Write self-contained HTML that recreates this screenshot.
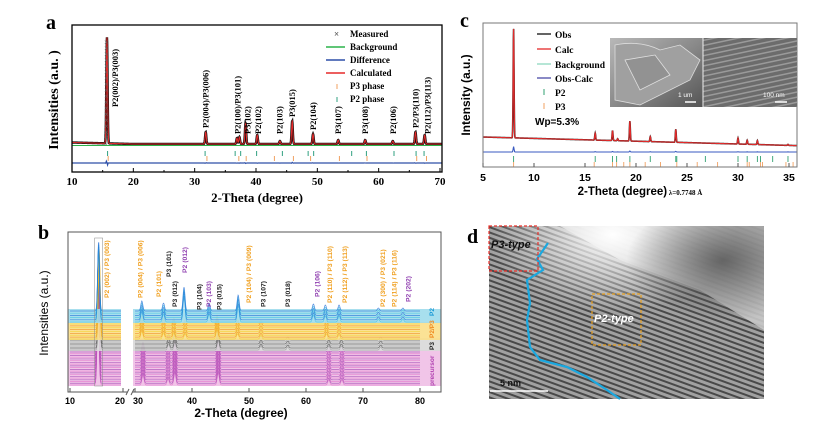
<!DOCTYPE html>
<html><head><meta charset="utf-8">
<style>
html,body{margin:0;padding:0;background:#fff;}
svg{display:block;}
.serif{font-family:"Liberation Serif",serif;font-weight:bold;}
.sans{font-family:"Liberation Sans",sans-serif;}
</style></head>
<body>
<svg id="fig" width="817" height="426" viewBox="0 0 817 426" xmlns="http://www.w3.org/2000/svg">
<defs>
<clipPath id="clipA"><rect x="72" y="25" width="370" height="147"/></clipPath>
<clipPath id="clipB"><rect x="68" y="232" width="373" height="160"/></clipPath>
<clipPath id="clipC"><rect x="483" y="23" width="314" height="144"/></clipPath>
<clipPath id="clipD"><rect x="489" y="226" width="275" height="173"/></clipPath>
<radialGradient id="glow" cx="0.45" cy="0.05" r="0.45">
<stop offset="0" stop-color="#ffffff" stop-opacity="1"/><stop offset="1" stop-color="#ffffff" stop-opacity="0"/></radialGradient>
<radialGradient id="darkc" cx="0.85" cy="0.2" r="0.35">
<stop offset="0" stop-color="#5a5a5a" stop-opacity="0.9"/><stop offset="1" stop-color="#5a5a5a" stop-opacity="0"/></radialGradient>
<pattern id="stripes" width="5" height="5" patternUnits="userSpaceOnUse" patternTransform="rotate(20)">
<rect width="5" height="5" fill="#a8a8a8"/><rect width="5" height="2" fill="#333"/></pattern>
<linearGradient id="sem1" x1="0" y1="0" x2="1" y2="1"><stop offset="0" stop-color="#b8b8b8"/><stop offset="0.5" stop-color="#8a8a8a"/><stop offset="1" stop-color="#555"/></linearGradient>
<pattern id="sem2" width="5" height="5" patternUnits="userSpaceOnUse" patternTransform="rotate(-12)">
<rect width="5" height="5" fill="#6c6c6c"/><rect width="5" height="1.5" fill="#9a9a9a"/></pattern>
</defs>

<!-- Panel a -->
<g id="panelA">
<text x="46" y="29" class="serif" font-size="20">a</text>
<g id="aMarks" clip-path="url(#clipA)"></g>
<rect x="72" y="25" width="370" height="147" fill="none" stroke="#000" stroke-width="1.3"/>
<g id="aAxis"></g>
<text x="58" y="100" class="serif" font-size="14" text-anchor="middle" transform="rotate(-90 58 100)">Intensities (a.u. )</text>
<text x="257" y="202" class="serif" font-size="13" text-anchor="middle">2-Theta (degree)</text>
<g class="serif" font-size="9">
<text x="334" y="37" font-size="9" fill="#555">×</text><text x="350" y="37">Measured</text>
<line x1="326" y1="47" x2="345" y2="47" stroke="#2bb34a" stroke-width="1.5"/><text x="350" y="50">Background</text>
<line x1="326" y1="60" x2="345" y2="60" stroke="#2d4fa8" stroke-width="1.5"/><text x="350" y="63">Difference</text>
<line x1="326" y1="73" x2="345" y2="73" stroke="#e52a2a" stroke-width="1.5"/><text x="350" y="76">Calculated</text>
<line x1="337" y1="84" x2="337" y2="89" stroke="#f0a060" stroke-width="1"/><text x="350" y="89">P3 phase</text>
<line x1="337" y1="97" x2="337" y2="102" stroke="#30a080" stroke-width="1"/><text x="350" y="102">P2 phase</text>
</g>
<g id="aLabels" class="serif" font-size="8.5"></g>
</g>

<!-- Panel b -->
<g id="panelB">
<text x="38" y="239" class="serif" font-size="20">b</text>
<g id="bMarks" clip-path="url(#clipB)"></g>
<rect x="68" y="232" width="373" height="160" fill="none" stroke="#555" stroke-width="1"/>
<rect x="127" y="388" width="6" height="8" fill="#fff"/>
<line x1="126" y1="395" x2="129" y2="389" stroke="#555"/><line x1="131" y1="395" x2="134" y2="389" stroke="#555"/>
<g id="bAxis"></g>
<text x="48" y="313" class="sans" font-size="12" text-anchor="middle" transform="rotate(-90 48 313)">Intensities (a.u.)</text>
<text x="241" y="417" class="sans" font-size="12" font-weight="bold" text-anchor="middle">2-Theta (degree)</text>
<g id="bLabels" class="sans" font-size="6.8" font-weight="bold"></g>
<g class="sans" font-size="6.5" font-weight="bold" transform="translate(434 386) rotate(-90)">
<text x="0" y="0" fill="#b040b0">precursor</text><text x="36" y="0" fill="#222">P3</text><text x="48" y="0" fill="#f08a20">P2/P3</text><text x="70" y="0" fill="#1a9ad6">P2</text>
</g>
</g>

<!-- Panel c -->
<g id="panelC">
<text x="460" y="27" class="serif" font-size="20">c</text>
<g id="cMarks" clip-path="url(#clipC)"></g>
<rect x="483" y="23" width="314" height="144" fill="none" stroke="#777" stroke-width="1"/>
<g id="cAxis"></g>
<text x="470" y="95" class="sans" font-size="12" font-weight="bold" text-anchor="middle" transform="rotate(-90 470 95)">Intensity (a.u.)</text>
<text x="640" y="195" class="sans" font-size="11.5" font-weight="bold" text-anchor="middle">2-Theta (degree)<tspan class="serif" font-size="7" font-weight="normal"> λ=0.7748 Å</tspan></text>
<g class="serif" font-size="9.5">
<line x1="537" y1="34" x2="551" y2="34" stroke="#111" stroke-width="1.3"/><text x="555" y="38">Obs</text>
<line x1="537" y1="49" x2="551" y2="49" stroke="#e52a2a" stroke-width="1.3"/><text x="555" y="53">Calc</text>
<line x1="537" y1="64" x2="551" y2="64" stroke="#8fd8c0" stroke-width="1.3"/><text x="555" y="68">Background</text>
<line x1="537" y1="78" x2="551" y2="78" stroke="#4a4aa8" stroke-width="1.3"/><text x="555" y="82">Obs-Calc</text>
<line x1="544" y1="89" x2="544" y2="95" stroke="#30a070" stroke-width="1"/><text x="555" y="96">P2</text>
<line x1="544" y1="103" x2="544" y2="109" stroke="#f0a060" stroke-width="1"/><text x="555" y="110">P3</text>
<text x="535" y="125" class="sans" font-size="10" font-weight="bold">Wp=5.3%</text>
</g>
<g>
<rect x="610" y="38" width="93" height="69" fill="url(#sem1)"/>
<path d="M615 45 Q640 40 660 50 L680 45 L700 60 L690 80 L660 95 L640 105 L615 100 Z" fill="#a0a0a0" stroke="#ddd" stroke-width="0.8"/>
<path d="M625 60 L655 55 L670 75 L640 90 Z" fill="#929292" stroke="#e0e0e0" stroke-width="0.8"/>
<rect x="703" y="38" width="94" height="69" fill="url(#sem2)"/>
<line x1="703" y1="38" x2="703" y2="107" stroke="#eee" stroke-width="1"/>
<text x="678" y="97" class="sans" font-size="6.5" fill="#fff">1 um</text>
<line x1="685" y1="102" x2="696" y2="102" stroke="#fff" stroke-width="1.5"/>
<text x="763" y="97" class="sans" font-size="6.5" fill="#fff">100 nm</text>
<line x1="775" y1="102" x2="787" y2="102" stroke="#fff" stroke-width="1.5"/>
</g>
</g>

<!-- Panel d -->
<g id="panelD">
<text x="467" y="243" class="serif" font-size="20">d</text>
<g clip-path="url(#clipD)">
<rect x="489" y="226" width="275" height="173" fill="url(#stripes)"/>
<rect x="489" y="226" width="275" height="173" fill="#8a8a8a" opacity="0.25"/>
<polygon points="560,226 764,226 764,330 700,290 620,260" fill="#c8c8c8" opacity="0.9"/>
<rect x="489" y="226" width="275" height="173" fill="url(#glow)"/>
<rect x="489" y="226" width="275" height="173" fill="url(#darkc)"/>
</g>
<polyline points="548,243 537,259 543,270 527,280 530,303 527,320 530,347 540,360 567,367 587,377 607,390 620,399" fill="none" stroke="#1aa8e0" stroke-width="2.2"/>
<rect x="489" y="226" width="49" height="45" fill="none" stroke="#e8302a" stroke-width="1.2" stroke-dasharray="3 2"/>
<text x="491" y="248" class="sans" font-size="11" font-weight="bold" font-style="italic" fill="#111">P3-type</text>
<rect x="592" y="294" width="49" height="51" fill="none" stroke="#e8a020" stroke-width="1.2" stroke-dasharray="3 2"/>
<text x="594" y="322" class="sans" font-size="11" font-weight="bold" font-style="italic" fill="#fff">P2-type</text>
<text x="500" y="386" class="sans" font-size="9" font-weight="bold" fill="#111">5 nm</text>
<line x1="490" y1="391" x2="548" y2="391" stroke="#fff" stroke-width="1.5"/>
</g>
</svg>

<script>
// ---------- Panel a data ----------
const aPeakPos = [15.7, 31.8, 36.9, 37.3, 38.3, 40.2, 43.9, 45.9, 49.3, 53.4, 57.8, 62.3, 66.0, 67.5];
const aPeakInt = [106, 12, 6, 7, 21, 9, 3, 23, 10, 4, 4, 3, 12, 9];
const aP2Ticks = [15.8, 31.7, 36.6, 37.5, 40.1, 44.3, 48.5, 49.4, 55.6, 58.0, 62.5, 66.1, 67.4];
const aP3Ticks = [15.9, 32.0, 37.2, 38.4, 43.0, 46.1, 48.9, 53.6, 58.1, 66.2, 67.8];
const aTicks = [10, 20, 30, 40, 50, 60, 70];
const aLabels = ["P2(002)/P3(003)","P2(004)/P3(006)","P2(100)/P3(101)","P3(102)","P2(102)","P2(103)","P3(015)","P2(104)","P3(107)","P3(108)","P2(106)","P2/P3(110)","P2(112)/P3(113)"];
const aLabelPos = [17.0, 31.8, 37.0, 38.6, 40.3, 43.8, 45.9, 49.3, 53.4, 57.8, 62.3, 66.0, 68.0];

// ---------- Panel b data ----------
const bGroupNames = ["precursor","P3","P2/P3","P2"];
const bGroupCounts = [20, 6, 9, 6];
const bPeaksPre = [15.3, 31.4, 35.8, 37.0, 44.6, 64.0, 66.3];
const bIntPre = [90, 10, 6, 12, 12, 5, 5];
const bPeaksP3 = [15.5, 35.9, 37.0, 44.6, 52.1, 56.8, 64.0, 66.2, 73.1];
const bIntP3 = [70, 6, 8, 10, 4, 3, 4, 4, 3];
const bPeaksMix = [15.5, 31.2, 35.0, 36.8, 38.8, 44.4, 48.0, 52.1, 63.6, 65.8];
const bIntMix = [75, 8, 6, 6, 5, 9, 5, 4, 5, 4];
const bPeaksP2 = [15.4, 31.2, 35.0, 38.6, 43.0, 48.1, 61.3, 63.4, 65.8, 72.7, 77.0];
const bIntP2 = [70, 10, 8, 24, 8, 16, 7, 6, 6, 3, 3];
const bTicks = [10, 20, 30, 40, 50, 60, 70, 80];
const bLabels = ["P2 (002) / P3 (003)","P2 (004) / P3 (006)","P2 (101)","P3 (101)","P3 (012)","P2 (012)","P3 (104)","P2 (103)","P3 (015)","P2 (104) / P3 (009)","P3 (107)","P3 (018)","P2 (106)","P2 (110) / P3 (110)","P2 (112) / P3 (113)","P2 (300) / P3 (021)","P2 (114) / P3 (116)","P2 (202)"];
const bLabelPos = [17.0, 31.0, 34.2, 36.0, 37.0, 38.8, 41.3, 43.0, 44.8, 50.0, 52.5, 56.8, 62.0, 64.2, 66.8, 73.5, 75.5, 78.0];
const bLabelKind = ["o","o","o","k","k","p","k","p","k","o","k","k","p","o","o","o","o","p"];
const bLabelBottom = [298,298,297,277,307,273,310,307,310,303,307,307,297,303,303,307,307,302];

// ---------- Panel c data ----------
const cPeakPos = [8.0, 16.0, 17.7, 18.2, 19.4, 21.4, 23.9, 30.0, 30.9, 31.9, 34.9];
const cPeakInt = [109, 7, 10, 2, 20, 5, 13, 6, 4, 4, 1];
const cP2Ticks = [8.0, 16.0, 17.7, 18.1, 19.4, 21.4, 23.9, 24.0, 26.8, 30.0, 30.9, 31.9, 32.2, 33.4, 34.9, 35.8, 36.0];
const cP3Ticks = [8.0, 15.9, 17.7, 18.1, 18.8, 19.4, 20.9, 22.4, 24.0, 26.0, 28.0, 30.9, 31.1, 32.2, 32.4, 34.7, 35.4];
const cTicks = [5, 10, 15, 20, 25, 30, 35];

const NS = "http://www.w3.org/2000/svg";
function mk(tag, attrs, parent){ const e=document.createElementNS(NS,tag); for(const k in attrs) e.setAttribute(k,attrs[k]); parent.appendChild(e); return e; }
function peakSum(t, pos, ints, w){ let s=0; for(let i=0;i<pos.length;i++){ const d=(t-pos[i])/w; s+=ints[i]*Math.exp(-d*d);} return s; }

// ----- Panel a -----
(function(){
  const xA = t => 72 + (t-10)*(368/60);
  const yA = v => 144 - v;
  const g = document.getElementById('aMarks');
  let d="";
  for(let t=10;t<=70.5;t+=0.03){ const v=peakSum(t,aPeakPos,aPeakInt,0.14)+(t<20?(20-t)*0.15:0); d+=(d?"L":"M")+xA(t).toFixed(2)+" "+yA(v).toFixed(2); }
  const meas = mk('path',{d:d,fill:"none",stroke:"#111","stroke-width":2.4},g);
  
  
  const calc = mk('path',{d:d,fill:"none",stroke:"#e52a2a","stroke-width":1},g);
  
  
  for(let v=0; v<aPeakInt[0]; v+=6){ const c=mk('text',{x:xA(aPeakPos[0])-3,y:yA(v)+3,"font-size":8,fill:"#666"},g); c.textContent="×"; }
  const bg = mk('line',{x1:72,y1:yA(0)+1.5,x2:442,y2:yA(0)+1.5,stroke:"#2bb34a","stroke-width":1},g);
  
  
  let dd="";
  for(let t=10;t<=70.5;t+=0.1){ const v=peakSum(t,aPeakPos,aPeakInt,0.14)*0.03*Math.sin(t*17); dd+=(dd?"L":"M")+xA(t).toFixed(2)+" "+(163-v).toFixed(2); }
  const diff = mk('path',{d:dd,fill:"none",stroke:"#2d4fa8","stroke-width":1.2},g);
  
  
  aP2Ticks.forEach(t=>{ const l=mk('line',{x1:xA(t),y1:151,x2:xA(t),y2:156,stroke:"#30a080","stroke-width":1},g);
    
     });
  aP3Ticks.forEach(t=>{ const l=mk('line',{x1:xA(t),y1:156,x2:xA(t),y2:161,stroke:"#f0a060","stroke-width":1},g);
    
     });
  const ax = document.getElementById('aAxis');
  aTicks.forEach(t=>{ mk('line',{x1:xA(t),y1:172,x2:xA(t),y2:168,stroke:"#000"},ax);
    const tx=mk('text',{x:xA(t),y:185,"text-anchor":"middle",class:"serif","font-size":11},ax); tx.textContent=t;
    
     });
  for(let t=15;t<70;t+=10) mk('line',{x1:xA(t),y1:172,x2:xA(t),y2:170,stroke:"#000"},ax);
  const lg = document.getElementById('aLabels');
  aLabels.forEach((s,i)=>{ const t=aLabelPos[i]; const top=yA(peakSum(t,aPeakPos,aPeakInt,0.14))-4;
    const bottom = i===0 ? 107 : Math.min(top,134);
    const x = xA(t)+3;
    const tx=mk('text',{x:x,y:bottom,transform:`rotate(-90 ${x} ${bottom})`},lg); tx.textContent=s;
    
     });
})();

// ----- Panel b -----
(function(){
  const xB = t => t<=20 ? 70+(t-10)*5.3 : 135+(t-30)*5.7;
  const g = document.getElementById('bMarks');
  const groups = [
    {n:bGroupCounts[0], y0:385, y1:352, pos:bPeaksPre, ints:bIntPre, col:["#9a40b0","#e070c8"], band:"#f0bfe6"},
    {n:bGroupCounts[1], y0:350, y1:340, pos:bPeaksP3, ints:bIntP3, col:["#444","#999"], band:"#d8d8d8"},
    {n:bGroupCounts[2], y0:339, y1:324, pos:bPeaksMix, ints:bIntMix, col:["#f08a20","#f2d030"], band:"#fbdf8a"},
    {n:bGroupCounts[3], y0:322, y1:311, pos:bPeaksP2, ints:bIntP2, col:["#1a6ad6","#40c0e0"], band:"#9fdcec"}
  ];
  groups.forEach((G,gi)=>{
    const band=mk('rect',{x:68,y:G.y1-2,width:373,height:G.y0-G.y1+3,fill:G.band,opacity:0.9},g);
    
    
    for(let i=0;i<G.n;i++){
      const base = G.y0 - (G.y0-G.y1)*i/Math.max(1,G.n-1);
      const segs=[[10,20],[30,80]];
      segs.forEach(sg=>{
        let d="";
        for(let t=sg[0];t<=sg[1];t+=0.08){ let v=peakSum(t,G.pos,G.ints,0.25); d+=(d?"L":"M")+xB(t).toFixed(2)+" "+(base-v).toFixed(2); }
        const p=mk('path',{d:d,fill:"none",stroke:i%2?G.col[0]:G.col[1],"stroke-width":0.7,opacity:0.75},g);
        
        
      });
    }
  });
  mk('rect',{x:121,y:232,width:12,height:160,fill:"#fff"},g);
  const ax = document.getElementById('bAxis');
  bTicks.forEach(t=>{ mk('line',{x1:xB(t),y1:392,x2:xB(t),y2:388,stroke:"#555"},ax);
    const tx=mk('text',{x:xB(t)+(t===20?-3:(t===30?3:0)),y:404,"text-anchor":"middle",class:"sans","font-size":9,"font-weight":"bold"},ax); tx.textContent=t;
    
     });
  const lg = document.getElementById('bLabels');
  const cols={o:"#f0a020",k:"#222",p:"#9040b0"};
  bLabels.forEach((s,i)=>{ const x=xB(bLabelPos[i])+2, y=bLabelBottom[i];
    const tx=mk('text',{x:x,y:y,fill:cols[bLabelKind[i]],transform:`rotate(-90 ${x} ${y})`},lg); tx.textContent=s;
    
     });
  const big=mk('rect',{x:xB(15.4)-4,y:238,width:8,height:148,fill:"none",stroke:"#888","stroke-width":0.5},lg);
  
  
})();

// ----- Panel c -----
(function(){
  const xC = t => 483 + (t-5)*(306/30);
  const bgY = t => 137 + (t-5)*0.28;
  const g = document.getElementById('cMarks');
  let d="";
  for(let t=4.8;t<=36.6;t+=0.02){ const v=peakSum(t,cPeakPos,cPeakInt,0.06); d+=(d?"L":"M")+xC(t).toFixed(2)+" "+(bgY(t)-v).toFixed(2); }
  const obs=mk('path',{d:d,fill:"none",stroke:"#222","stroke-width":1.6},g);
  
  
  const calc=mk('path',{d:d,fill:"none",stroke:"#e52a2a","stroke-width":1.1},g);
  
  
  let dd="";
  for(let t=4.8;t<=36.6;t+=0.05){ const v=peakSum(t,cPeakPos,cPeakInt,0.06)*0.05; dd+=(dd?"L":"M")+xC(t).toFixed(2)+" "+(152-v).toFixed(2); }
  const diff=mk('path',{d:dd,fill:"none",stroke:"#3a5ac0","stroke-width":1.1},g);
  
  
  cP2Ticks.forEach(t=>{ const l=mk('line',{x1:xC(t),y1:156,x2:xC(t),y2:162,stroke:"#30a070","stroke-width":0.9},g);
    
     });
  cP3Ticks.forEach(t=>{ const l=mk('line',{x1:xC(t),y1:162,x2:xC(t),y2:169,stroke:"#f0a060","stroke-width":0.9},g);
    
     });
  const ax=document.getElementById('cAxis');
  cTicks.forEach(t=>{ mk('line',{x1:xC(t),y1:167,x2:xC(t),y2:163,stroke:"#555"},ax);
    const tx=mk('text',{x:xC(t),y:181,"text-anchor":"middle",class:"sans","font-size":10.5,"font-weight":"bold"},ax); tx.textContent=t;
    
     });
})();
</script>
</body></html>
